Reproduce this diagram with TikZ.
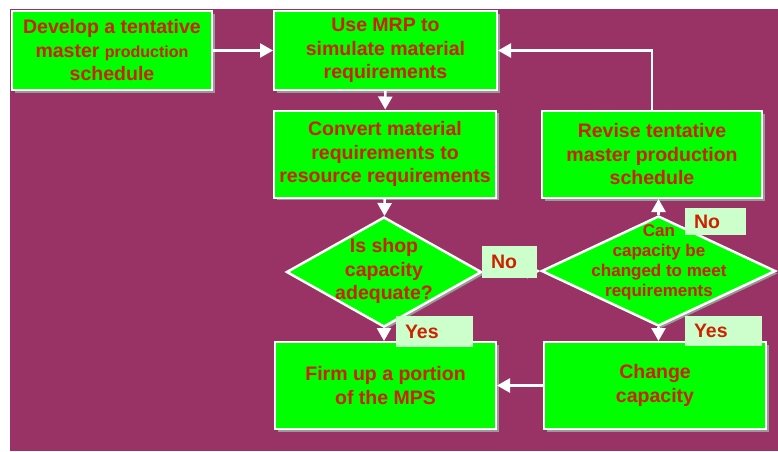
\documentclass[tikz,border=0pt]{standalone}
\usepackage{fontspec}
\setmainfont{Liberation Sans}
\usetikzlibrary{shapes.geometric, arrows.meta, positioning, calc, shadows}
\definecolor{pagemaroon}{HTML}{993366}
\definecolor{boxgreen}{HTML}{00FF00}
\definecolor{inkred}{HTML}{CC2200}
\definecolor{answerfill}{HTML}{CCFFCC}
\definecolor{shadowgray}{HTML}{9A9A9A}

\begin{document}
\begin{tikzpicture}[x=1pt, y=-1pt, every node/.style={text=inkred, font=\bfseries\fontsize{19.5}{23.5}\selectfont}]

\tikzset{
  flowline/.style={-{Triangle[length=13pt, width=14pt]}, white, line width=2.5pt},
  stepbox/.style={rectangle, draw=white, line width=2pt, fill=boxgreen, align=center,
    inner sep=0pt, drop shadow={shadow xshift=2.5pt, shadow yshift=-2.5pt, fill=shadowgray, opacity=1}},
  decision/.style={diamond, draw=white, line width=2.5pt, fill=boxgreen, inner sep=0pt,
    drop shadow={shadow xshift=2.5pt, shadow yshift=-2.5pt, fill=shadowgray, opacity=1}},
  qtext/.style={align=center, inner sep=0pt},
  answer/.style={rectangle, fill=answerfill, align=left, inner xsep=9pt, inner ysep=0pt},
}

\useasboundingbox (0,0) rectangle (778,451);
\fill[pagemaroon] (10,9) rectangle (778,451);

% ---- top row ----
\node[stepbox, minimum width=200pt, minimum height=79pt] (dev) at (112,50.5)
  {Develop a tentative\\master {\fontsize{16}{23.5}\selectfont production}\\schedule};
\node[stepbox, minimum width=223pt, minimum height=79pt] (mrp) at (385.5,50.5)
  {Use MRP to\\simulate material\\requirements};

% ---- middle: conversion and capacity checks ----
\node[stepbox, minimum width=222pt, minimum height=87pt] (convert) at (385,154)
  {Convert material\\requirements to\\resource requirements};
\node[stepbox, minimum width=220pt, minimum height=87pt] (revise) at (652,154.5)
  {Revise tentative\\master production\\schedule};
\node[decision, minimum width=195pt, minimum height=110pt] (shopq) at (384,272) {};
\node[qtext] (shopqtext) at (384,271) {Is shop\\capacity\\adequate?};
\node[decision, minimum width=234pt, minimum height=110pt] (canq) at (658.5,271) {};
\node[qtext, font=\bfseries\fontsize{17}{20}\selectfont] (canqtext) at (659,262)
  {Can\\capacity be\\changed to meet\\requirements};

% ---- bottom row ----
\node[stepbox, minimum width=221pt, minimum height=87pt] (firm) at (385.5,385.5)
  {Firm up a portion\\of the MPS};
\node[stepbox, minimum width=222pt, minimum height=87pt] (change) at (655,385.5)
  {Change\\capacity};

% ---- connectors ----
\draw[flowline] (dev) -- (mrp);
\draw[flowline] (mrp) -- (convert);
\draw[flowline] (convert) -- (shopq);
\draw[flowline] (shopq.east) -- (canq.west);
\draw[flowline] (canq.north) -- (canq.north |- revise.south);
\draw[flowline] (revise.north) |- (mrp.east);
\draw[flowline] (shopq.south) -- (shopq.south |- firm.north);
\draw[flowline] (canq.south) -- (canq.south |- change.north);
\draw[flowline] (change) -- (firm);

% ---- yes / no tags ----
\node[answer, minimum height=32pt, text width=37pt] (nolab1) at (509.5,262) {No};
\node[answer, minimum height=27pt, text width=43pt] (nolab2) at (715.5,221.5) {No};
\node[answer, minimum height=31pt, text width=59pt] (yeslab1) at (434.5,331.5) {Yes};
\node[answer, minimum height=30pt, text width=59pt] (yeslab2) at (723.5,331) {Yes};

\end{tikzpicture}
\end{document}
